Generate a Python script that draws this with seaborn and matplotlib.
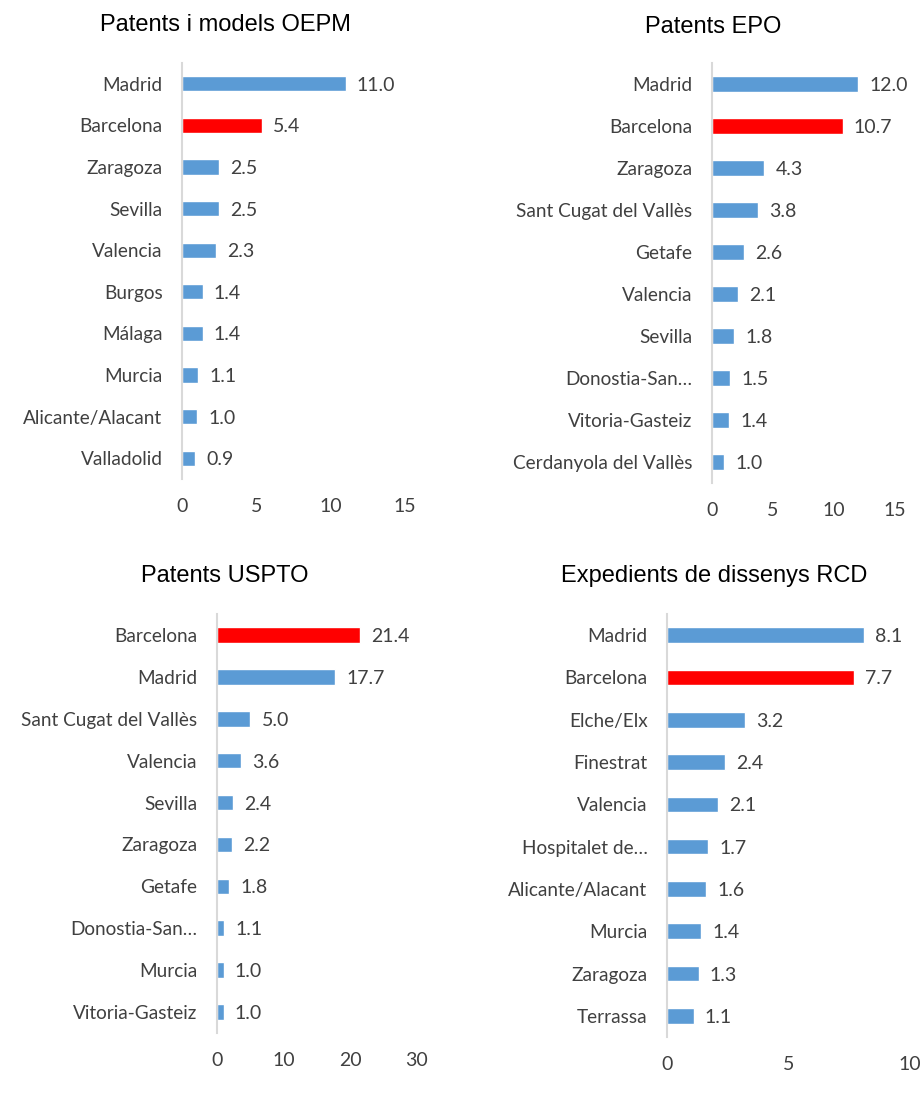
import numpy as np
import pandas as pd
import seaborn as sns
import matplotlib.pyplot as plt

sns.set_theme(style="white")
plt.rcParams['font.family'] = ['Lato', 'DejaVu Sans']

BLUE = '#5B9BD5'
RED = '#FF0000'

# --- data ---
oepm_cities = ['Madrid', 'Barcelona', 'Zaragoza', 'Sevilla', 'Valencia', 'Burgos',
               'Málaga', 'Murcia', 'Alicante/Alacant', 'Valladolid']
oepm_values = [11.0, 5.4, 2.5, 2.5, 2.3, 1.4, 1.4, 1.1, 1.0, 0.9]

epo_cities = ['Madrid', 'Barcelona', 'Zaragoza', 'Sant Cugat del Vallès', 'Getafe',
              'Valencia', 'Sevilla', 'Donostia-San…', 'Vitoria-Gasteiz',
              'Cerdanyola del Vallès']
epo_values = [12.0, 10.7, 4.3, 3.8, 2.6, 2.1, 1.8, 1.5, 1.4, 1.0]

uspto_cities = ['Barcelona', 'Madrid', 'Sant Cugat del Vallès', 'Valencia', 'Sevilla',
                'Zaragoza', 'Getafe', 'Donostia-San…', 'Murcia', 'Vitoria-Gasteiz']
uspto_values = [21.4, 17.7, 5.0, 3.6, 2.4, 2.2, 1.8, 1.1, 1.0, 1.0]

rcd_cities = ['Madrid', 'Barcelona', 'Elche/Elx', 'Finestrat', 'Valencia',
              'Hospitalet de…', 'Alicante/Alacant', 'Murcia', 'Zaragoza', 'Terrassa']
rcd_values = [8.1, 7.7, 3.2, 2.4, 2.1, 1.7, 1.6, 1.4, 1.3, 1.1]

titles = ['Patents i models OEPM', 'Patents EPO', 'Patents USPTO',
          'Expedients de dissenys RCD']
x_ticks = [[0, 5, 10, 15], [0, 5, 10, 15], [0, 10, 20, 30], [0, 5, 10]]

W, H = 923, 1102
fig = plt.figure(figsize=(W / 100, H / 100), dpi=100)

# pixel boxes: left, right, top, bottom ; title centre
panels = [
    (oepm_cities, oepm_values, (182, 405, 63, 479), (225, 25)),
    (epo_cities, epo_values, (712, 895, 63, 483), (713, 27)),
    (uspto_cities, uspto_values, (217, 417, 614, 1033), (225, 576)),
    (rcd_cities, rcd_values, (667, 910, 614, 1037), (714, 576)),
]

for i, (cities, values, box, tpos) in enumerate(panels):
    l, r, t, b = box
    ax = fig.add_axes([l / W, 1 - b / H, (r - l) / W, (b - t) / H])
    df = pd.DataFrame({'city': cities, 'value': values})
    colors = [RED if c == 'Barcelona' else BLUE for c in cities]
    sns.barplot(data=df, x='value', y='city', hue='city', palette=colors,
                legend=False, width=0.37, saturation=1, ax=ax)
    for cont in ax.containers:
        labels = ax.bar_label(cont, fmt='%.1f', padding=8, fontsize=14, color='#404040')
        for lab in labels:
            lab.set_va('center_baseline')
    ax.set_xlim(x_ticks[i][0], x_ticks[i][-1])
    ax.set_ylim(len(cities) - 0.5, -0.5)
    ax.set_xticks(x_ticks[i])
    ax.set_xlabel('')
    ax.set_ylabel('')
    ax.tick_params(axis='x', length=0, pad=14, labelsize=14, labelcolor='#404040')
    ax.tick_params(axis='y', length=0, pad=14, labelsize=13.7, labelcolor='#404040')
    for side in ['top', 'right', 'bottom']:
        ax.spines[side].set_visible(False)
    ax.spines['left'].set_color('#d9d9d9')
    ax.spines['left'].set_linewidth(1.5)
    fig.text(tpos[0] / W, 1 - tpos[1] / H, titles[i], ha='center', va='center',
             fontsize=17, family=['Liberation Sans', 'DejaVu Sans'], color='black')

fig.savefig('out.png', dpi=100)
